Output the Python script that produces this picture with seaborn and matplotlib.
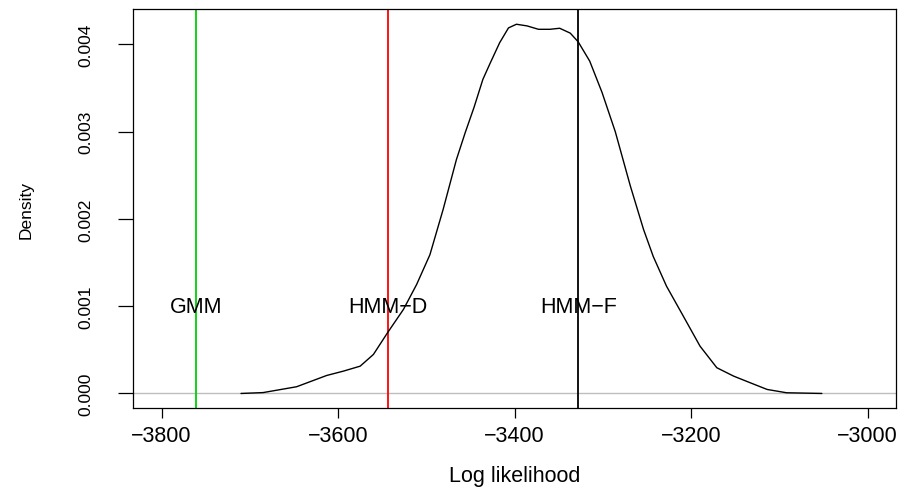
"""Dichte der Log-Likelihood mit Referenzlinien der drei Modelle."""
import matplotlib
matplotlib.use("Agg")
import matplotlib.pyplot as plt
import seaborn as sns
import pandas as pd

# Dichtekurve
loglik = [-3710, -3685, -3647, -3613, -3594, -3575, -3560, -3544, -3526, -3511,
          -3496, -3481, -3466, -3456, -3446, -3436, -3428, -3417, -3407, -3398,
          -3386, -3373, -3360, -3349, -3337, -3328, -3315, -3301, -3286, -3269,
          -3254, -3243, -3228, -3209, -3190, -3171, -3152, -3133, -3114, -3092, -3052]
density = [0.0, 0.00001, 0.000077, 0.000206, 0.000256, 0.000313, 0.000447, 0.000696, 0.000963, 0.00125,
           0.00159, 0.00211, 0.00268, 0.00299, 0.00328, 0.00360, 0.00378, 0.00402, 0.00419, 0.004232,
           0.004213, 0.004174, 0.004174, 0.004186, 0.00413, 0.00403, 0.00381, 0.00345, 0.00300, 0.00238,
           0.00188, 0.00157, 0.00123, 0.000887, 0.000542, 0.000295, 0.000199, 0.000122, 0.000046, 0.000008, 0.0]

# Referenzmodelle
models = ["GMM", "HMM\u2212D", "HMM\u2212F"]
model_loglik = [-3761, -3544, -3328]
model_colors = ["#00D000", "#FF0000", "#000000"]
label_y = 0.001

x_ticks = [-3800, -3600, -3400, -3200, -3000]
y_ticks = [0.000, 0.001, 0.002, 0.003, 0.004]

sns.set_style("white")
plt.rcParams["font.family"] = ["Liberation Sans", "DejaVu Sans"]
plt.rcParams["text.color"] = "black"
plt.rcParams["axes.labelcolor"] = "black"
plt.rcParams["xtick.color"] = "black"
plt.rcParams["ytick.color"] = "black"

fig = plt.figure(figsize=(9.08, 4.89), dpi=100)
ax = fig.add_axes([0.1468, 0.163, 0.840, 0.8166])

df = pd.DataFrame({"loglik": loglik, "density": density})
ax.axhline(0, color="#BEBEBE", lw=1.0, zorder=1)
sns.lineplot(data=df, x="loglik", y="density", ax=ax, color="black",
             lw=1.0, sort=False, estimator=None, zorder=3,
             solid_joinstyle="round")

for name, val, col in zip(models, model_loglik, model_colors):
    ax.axvline(val, color=col, lw=1.3, zorder=2)
    ax.text(val, label_y, name, ha="center", va="center", fontsize=15.5, zorder=4)

ax.set_xlim(-3832, -2968)
ax.set_ylim(-0.00017, 0.004407)
ax.set_xticks(x_ticks)
ax.set_xticklabels([f"\u2212{abs(t)}" if t < 0 else str(t) for t in x_ticks])
ax.set_yticks(y_ticks)
ax.set_yticklabels([f"{t:.3f}" for t in y_ticks], rotation=90, va="center")
ax.tick_params(axis="x", length=7, width=0.9, direction="out", labelsize=15.5, pad=5, bottom=True)
ax.tick_params(axis="y", length=11, width=0.9, direction="out", labelsize=12.5, pad=18, left=True)

ax.set_xlabel("Log likelihood", fontsize=15.5, labelpad=14)
ax.set_ylabel("Density", fontsize=12.5, labelpad=32)

for s in ax.spines.values():
    s.set_color("black")
    s.set_linewidth(0.9)

fig.savefig("out.png", dpi=100)
plt.close(fig)
